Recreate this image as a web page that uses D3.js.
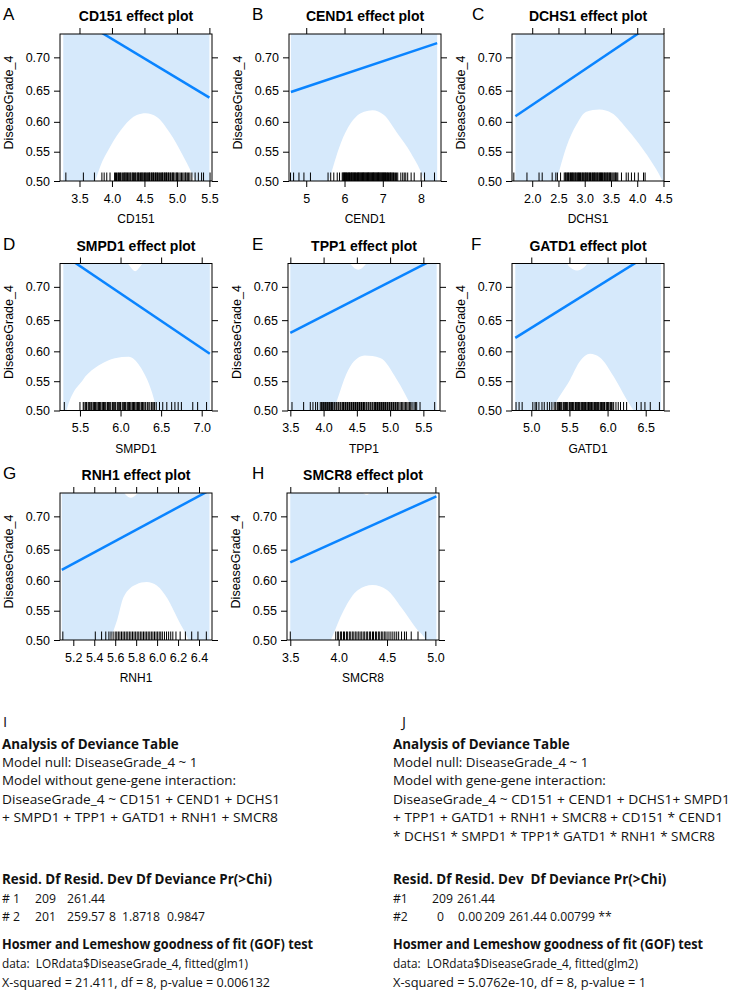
<!DOCTYPE html>
<html><head><meta charset="utf-8">
<script src="https://cdn.jsdelivr.net/npm/d3@7"></script>
<style>body{margin:0;background:#fff} svg{display:block}</style>
</head><body>
<script>
// ================= DATA =================
const genes = ["CD151","CEND1","DCHS1","SMPD1","TPP1","GATD1","RNH1","SMCR8"];
const panelLetters = ["A","B","C","D","E","F","G","H"];
const yLabel = "DiseaseGrade_4";
const yTickValues = [0.50, 0.55, 0.60, 0.65, 0.70];
const yLimits = [0.50, 0.7325];

const CD151_xlim = [3.2, 5.54];
const CD151_xticks = [3.5, 4.0, 4.5, 5.0, 5.5];
const CD151_fit = [[3.25, 0.764], [5.5, 0.639]];
const CD151_lower = [[3.25,0.36],[3.742,0.5],[3.818,0.5245],[3.972,0.5585],[4.177,0.592],[4.383,0.611],[4.52,0.614],[4.69,0.608],[4.895,0.581],[5.075,0.547],[5.23,0.513],[5.5,0.43]];
const CD151_upper = [[3.25,0.97],[4.5,0.80],[5.5,0.90]];
const CD151_rug = [3.29,3.56,3.73,3.845,3.88,3.92,3.97,4.04,4.055,4.07,4.09,4.1,4.115,4.13,4.14,4.16,4.175,4.19,4.2,4.215,4.22,4.24,4.25,4.265,4.28,4.29,4.31,4.32,4.33,4.345,4.36,4.37,4.39,4.4,4.41,4.42,4.44,4.45,4.46,4.475,4.48,4.5,4.51,4.52,4.535,4.55,4.56,4.575,4.58,4.6,4.61,4.62,4.635,4.64,4.66,4.67,4.68,4.695,4.7,4.72,4.73,4.75,4.76,4.775,4.78,4.8,4.81,4.82,4.835,4.84,4.86,4.87,4.88,4.9,4.91,4.93,4.94,4.95,4.97,4.99,5.0,5.01,5.03,5.05,5.07,5.09,5.11,5.13,5.14,5.16,5.18,5.2,5.23,5.28,5.33,5.38,5.41,5.51];

const CEND1_xlim = [4.55, 8.52];
const CEND1_xticks = [5, 6, 7, 8];
const CEND1_fit = [[4.6, 0.648], [8.42, 0.72]];
const CEND1_lower = [[4.6,0.3],[5.59,0.5],[5.90,0.564],[6.16,0.5975],[6.51,0.6165],[6.73,0.619],[7.03,0.611],[7.38,0.581],[7.74,0.547],[8.09,0.5],[8.42,0.42]];
const CEND1_upper = [[4.6,0.95],[6.7,0.80],[8.42,0.92]];
const CEND1_rug = [4.59,4.67,4.81,4.94,5.11,5.57,5.64,5.72,5.81,5.87,5.94,5.96,5.97,5.99,6.0,6.02,6.03,6.05,6.06,6.08,6.1,6.11,6.13,6.14,6.16,6.18,6.19,6.2,6.22,6.23,6.25,6.26,6.28,6.29,6.31,6.33,6.34,6.36,6.37,6.38,6.4,6.41,6.43,6.44,6.46,6.47,6.49,6.5,6.51,6.53,6.54,6.56,6.57,6.59,6.6,6.62,6.63,6.64,6.66,6.67,6.69,6.7,6.72,6.73,6.75,6.76,6.77,6.79,6.8,6.82,6.83,6.85,6.86,6.88,6.89,6.9,6.92,6.93,6.95,6.96,6.98,6.99,7.01,7.02,7.04,7.05,7.07,7.08,7.1,7.12,7.13,7.15,7.17,7.19,7.2,7.22,7.24,7.26,7.28,7.3,7.33,7.36,7.39,7.47,7.52,7.56,7.6,7.65,7.74,7.82,8.0,8.09,8.35];

const DCHS1_xlim = [1.615, 4.51];
const DCHS1_xticks = [2.0, 2.5, 3.0, 3.5, 4.0, 4.5];
const DCHS1_fit = [[1.68, 0.609], [4.49, 0.755]];
const DCHS1_lower = [[1.68,0.3],[2.46,0.5],[2.65,0.558],[2.84,0.595],[3.03,0.6165],[3.28,0.62],[3.52,0.614],[3.77,0.592],[4.03,0.564],[4.25,0.536],[4.47,0.502],[4.49,0.498]];
const DCHS1_upper = [[1.68,0.95],[3.2,0.80],[4.49,0.95]];
const DCHS1_rug = [1.65,1.9,2.13,2.19,2.38,2.45,2.48,2.54,2.61,2.63,2.64,2.66,2.67,2.69,2.7,2.72,2.73,2.75,2.76,2.77,2.79,2.8,2.82,2.83,2.85,2.86,2.88,2.89,2.9,2.92,2.93,2.95,2.96,2.98,2.99,3.01,3.02,3.03,3.05,3.06,3.08,3.09,3.11,3.12,3.14,3.15,3.17,3.18,3.19,3.21,3.22,3.24,3.25,3.27,3.28,3.3,3.31,3.32,3.34,3.35,3.37,3.38,3.4,3.41,3.43,3.44,3.46,3.47,3.49,3.5,3.52,3.54,3.56,3.58,3.59,3.61,3.63,3.7,3.79,3.83,3.89,3.95,4.02,4.12,4.15];

const SMPD1_xlim = [5.254, 7.127];
const SMPD1_xticks = [5.5, 6.0, 6.5, 7.0];
const SMPD1_fit = [[5.295, 0.744], [7.1, 0.596]];
const SMPD1_lower = [[5.295,0.42],[5.335,0.5],[5.54,0.553],[5.75,0.578],[5.93,0.5886],[6.10,0.591],[6.24,0.575],[6.39,0.53],[6.45,0.5],[7.1,0.33]];
const SMPD1_upper = [[5.295,0.98],[5.7,0.80],[6.0,0.75],[6.12,0.728],[6.18,0.722],[6.24,0.728],[6.36,0.75],[6.7,0.81],[7.1,0.92]];
const SMPD1_rug = [5.307,5.5,5.54,5.55,5.57,5.58,5.6,5.61,5.62,5.635,5.64,5.66,5.67,5.68,5.69,5.7,5.72,5.73,5.74,5.75,5.76,5.78,5.79,5.8,5.81,5.82,5.84,5.85,5.86,5.87,5.88,5.9,5.91,5.92,5.93,5.94,5.96,5.97,5.98,5.99,6.0,6.02,6.03,6.04,6.05,6.06,6.08,6.09,6.1,6.11,6.12,6.14,6.15,6.16,6.17,6.18,6.2,6.21,6.22,6.23,6.24,6.26,6.27,6.28,6.3,6.31,6.33,6.34,6.36,6.38,6.39,6.41,6.42,6.44,6.48,6.52,6.57,6.63,6.67,6.71,6.75,6.89,6.95,7.06];

const TPP1_xlim = [3.465, 5.75];
const TPP1_xticks = [3.5, 4.0, 4.5, 5.0, 5.5];
const TPP1_fit = [[3.5, 0.63], [5.7, 0.74]];
const TPP1_lower = [[3.5,0.3],[4.15,0.5],[4.4,0.575],[4.62,0.593],[4.85,0.589],[5.1,0.553],[5.32,0.507],[5.35,0.5],[5.7,0.4]];
const TPP1_upper = [[3.5,0.95],[4.0,0.80],[4.3,0.75],[4.42,0.73],[4.52,0.724],[4.62,0.73],[4.75,0.75],[5.1,0.80],[5.7,0.95]];
const TPP1_rug = [3.525,3.7,3.8,3.84,3.88,3.91,3.95,3.97,3.98,4.0,4.01,4.03,4.04,4.06,4.07,4.09,4.1,4.12,4.13,4.14,4.16,4.17,4.19,4.2,4.22,4.23,4.25,4.26,4.28,4.29,4.3,4.32,4.33,4.35,4.36,4.38,4.39,4.41,4.42,4.44,4.45,4.46,4.48,4.49,4.51,4.52,4.54,4.55,4.57,4.58,4.6,4.61,4.62,4.64,4.65,4.67,4.68,4.7,4.71,4.73,4.74,4.76,4.77,4.78,4.8,4.81,4.83,4.84,4.86,4.87,4.89,4.9,4.92,4.93,4.94,4.96,4.97,4.99,5.0,5.02,5.03,5.05,5.06,5.08,5.09,5.11,5.13,5.15,5.17,5.19,5.21,5.23,5.25,5.27,5.29,5.31,5.33,5.36,5.38,5.4,5.45,5.67];

const GATD1_xlim = [4.747, 6.74];
const GATD1_xticks = [5.0, 5.5, 6.0, 6.5];
const GATD1_fit = [[4.79, 0.622], [6.70, 0.754]];
const GATD1_lower = [[4.79,0.3],[5.27,0.5],[5.51,0.553],[5.64,0.584],[5.77,0.596],[5.9,0.59],[6.08,0.558],[6.25,0.519],[6.34,0.5],[6.7,0.38]];
const GATD1_upper = [[4.79,0.95],[5.2,0.80],[5.4,0.75],[5.5,0.728],[5.6,0.723],[5.7,0.728],[5.82,0.75],[6.2,0.82],[6.7,0.95]];
const GATD1_rug = [4.8,4.84,4.88,5.02,5.05,5.07,5.1,5.14,5.17,5.21,5.24,5.27,5.3,5.32,5.34,5.35,5.36,5.37,5.38,5.39,5.4,5.42,5.43,5.44,5.45,5.46,5.47,5.48,5.5,5.51,5.52,5.53,5.54,5.55,5.56,5.58,5.59,5.6,5.61,5.62,5.63,5.64,5.66,5.67,5.68,5.69,5.7,5.71,5.72,5.74,5.75,5.76,5.77,5.78,5.79,5.8,5.82,5.83,5.84,5.85,5.86,5.87,5.88,5.9,5.91,5.92,5.93,5.94,5.95,5.96,5.98,5.99,6.0,6.01,6.02,6.04,6.05,6.06,6.08,6.11,6.14,6.17,6.21,6.25,6.38,6.44,6.49,6.56,6.68];

const RNH1_xlim = [5.073, 6.524];
const RNH1_xticks = [5.2, 5.4, 5.6, 5.8, 6.0, 6.2, 6.4];
const RNH1_fit = [[5.09, 0.618], [6.50, 0.736]];
const RNH1_lower = [[5.09,0.3],[5.55,0.5],[5.62,0.535],[5.68,0.573],[5.8,0.594],[5.9,0.598],[6.0,0.592],[6.1,0.57],[6.2,0.535],[6.3,0.5],[6.5,0.38]];
const RNH1_upper = [[5.09,0.95],[5.5,0.78],[5.64,0.745],[5.7,0.73],[5.75,0.726],[5.8,0.73],[5.87,0.745],[6.1,0.80],[6.5,0.92]];
const RNH1_rug = [5.1,5.41,5.47,5.51,5.54,5.56,5.58,5.6,5.615,5.63,5.645,5.66,5.675,5.69,5.705,5.72,5.735,5.75,5.765,5.78,5.795,5.81,5.825,5.84,5.855,5.87,5.885,5.9,5.915,5.93,5.945,5.96,5.975,5.99,6.005,6.02,6.035,6.05,6.07,6.09,6.11,6.13,6.15,6.18,6.22,6.27,6.33,6.39,6.47];

const SMCR8_xlim = [3.466, 5.037];
const SMCR8_xticks = [3.5, 4.0, 4.5, 5.0];
const SMCR8_fit = [[3.5, 0.63], [5.01, 0.728]];
const SMCR8_lower = [[3.5,0.35],[3.92,0.5],[4.05,0.55],[4.2,0.585],[4.35,0.593],[4.5,0.585],[4.65,0.555],[4.8,0.52],[4.9,0.5],[5.01,0.45]];
const SMCR8_upper = [[3.5,0.95],[4.0,0.78],[4.2,0.74],[4.29,0.73],[4.38,0.74],[4.6,0.78],[5.01,0.90]];
const SMCR8_rug = [3.5,3.97,3.99,4.0,4.02,4.03,4.05,4.06,4.08,4.09,4.11,4.12,4.14,4.15,4.17,4.18,4.2,4.21,4.23,4.24,4.26,4.27,4.29,4.3,4.32,4.33,4.35,4.36,4.38,4.39,4.41,4.42,4.44,4.45,4.47,4.48,4.5,4.52,4.54,4.56,4.58,4.6,4.62,4.65,4.68,4.7,4.75,4.82,4.9];

const panelData = {
  CD151: {xlim: CD151_xlim, xticks: CD151_xticks, fit: CD151_fit, lower: CD151_lower, upper: CD151_upper, rug: CD151_rug},
  CEND1: {xlim: CEND1_xlim, xticks: CEND1_xticks, fit: CEND1_fit, lower: CEND1_lower, upper: CEND1_upper, rug: CEND1_rug},
  DCHS1: {xlim: DCHS1_xlim, xticks: DCHS1_xticks, fit: DCHS1_fit, lower: DCHS1_lower, upper: DCHS1_upper, rug: DCHS1_rug},
  SMPD1: {xlim: SMPD1_xlim, xticks: SMPD1_xticks, fit: SMPD1_fit, lower: SMPD1_lower, upper: SMPD1_upper, rug: SMPD1_rug},
  TPP1:  {xlim: TPP1_xlim,  xticks: TPP1_xticks,  fit: TPP1_fit,  lower: TPP1_lower,  upper: TPP1_upper,  rug: TPP1_rug},
  GATD1: {xlim: GATD1_xlim, xticks: GATD1_xticks, fit: GATD1_fit, lower: GATD1_lower, upper: GATD1_upper, rug: GATD1_rug},
  RNH1:  {xlim: RNH1_xlim,  xticks: RNH1_xticks,  fit: RNH1_fit,  lower: RNH1_lower,  upper: RNH1_upper,  rug: RNH1_rug},
  SMCR8: {xlim: SMCR8_xlim, xticks: SMCR8_xticks, fit: SMCR8_fit, lower: SMCR8_lower, upper: SMCR8_upper, rug: SMCR8_rug}
};

// text panels
const blockHead = "Analysis of Deviance Table";
const I_lines = ["Model null: DiseaseGrade_4 ~ 1", "Model without gene-gene interaction:", "DiseaseGrade_4 ~ CD151 + CEND1 + DCHS1", "+ SMPD1 + TPP1 + GATD1 + RNH1 + SMCR8"];
const J_lines = ["Model null: DiseaseGrade_4 ~ 1", "Model with gene-gene interaction:", "DiseaseGrade_4 ~ CD151 + CEND1 + DCHS1+ SMPD1", "+ TPP1 + GATD1 + RNH1 + SMCR8 + CD151 * CEND1", "* DCHS1 * SMPD1 * TPP1* GATD1 * RNH1 * SMCR8"];
const I_tableHeader = "Resid. Df Resid. Dev Df Deviance Pr(>Chi)";
const J_tableHeader = "Resid. Df Resid. Dev  Df Deviance Pr(>Chi)";
const I_rows = [["# 1","209","261.44"],["# 2","201","259.57","8","1.8718","0.9847"]];
const J_rows = [["#1","209","261.44"],["#2","0","0.00","209","261.44","0.00799 **"]];
const gofTitle = "Hosmer and Lemeshow goodness of fit (GOF) test";
const I_gof = ["data:  LORdata$DiseaseGrade_4, fitted(glm1)", "X-squared = 21.411, df = 8, p-value = 0.006132"];
const J_gof = ["data:  LORdata$DiseaseGrade_4, fitted(glm2)", "X-squared = 5.0762e-10, df = 8, p-value = 1"];

// ================= LAYOUT =================
const W = 747, H = 992;
const PW = 152, PH = 147;
const panelPos = [
  {left:60, top:34, letterX:3},  {left:289, top:34, letterX:252}, {left:512, top:34, letterX:472},
  {left:60, top:263.5, letterX:3}, {left:288, top:263.5, letterX:252}, {left:512, top:263.5, letterX:471},
  {left:60, top:493, letterX:3}, {left:287, top:493, letterX:252}
];
const BAND = "#d6e9fb", LINE = "#0a84ff";
const PF = "'Liberation Sans', Arial, sans-serif";
const TF = "'Open Sans', 'Noto Sans', sans-serif";

const logit = p => Math.log(p / (1 - p));
const invlogit = v => 1 / (1 + Math.exp(-v));

const svg = d3.select("body").append("svg").attr("width", W).attr("height", H)
  .style("font-family", PF);
svg.append("rect").attr("width", W).attr("height", H).attr("fill", "#fff");

genes.forEach((g, i) => {
  const d = panelData[g];
  const pos = panelPos[i];
  const x = d3.scaleLinear().domain(d.xlim).range([0, PW]);
  const yl = d3.scaleLinear().domain(yLimits.map(logit)).range([PH, 0]);
  const y = p => yl(logit(p));
  const gp = svg.append("g").attr("transform", `translate(${pos.left},${pos.top})`);
  const clipId = "clip" + i;
  gp.append("clipPath").attr("id", clipId).append("rect").attr("width", PW).attr("height", PH);
  const inner = gp.append("g").attr("clip-path", `url(#${clipId})`);

  const x0 = d.fit[0][0], x1 = d.fit[d.fit.length - 1][0];
  inner.append("rect").attr("x", x(x0)).attr("y", 0).attr("width", x(x1) - x(x0)).attr("height", PH).attr("fill", BAND);
  inner.append("path").datum(d.lower)
    .attr("d", d3.area().x(p => x(p[0])).y0(PH + 50).y1(p => y(p[1])).curve(d3.curveMonotoneX))
    .attr("fill", "#fff");
  inner.append("path").datum(d.upper)
    .attr("d", d3.area().x(p => x(p[0])).y0(-50).y1(p => y(p[1])).curve(d3.curveMonotoneX))
    .attr("fill", "#fff");

  inner.append("path").datum(d.fit)
    .attr("d", d3.line().x(p => x(p[0])).y(p => y(p[1])))
    .attr("fill", "none").attr("stroke", LINE).attr("stroke-width", 2.5);

  inner.selectAll("line.rug").data(d.rug).join("line").attr("class", "rug")
    .attr("x1", v => x(v)).attr("x2", v => x(v)).attr("y1", PH).attr("y2", PH - 8.5)
    .attr("stroke", "#000").attr("stroke-width", 1);

  gp.append("rect").attr("width", PW).attr("height", PH).attr("fill", "none").attr("stroke", "#000").attr("stroke-width", 1);

  const allInt = d.xticks.every(Number.isInteger);
  const fmtX = allInt ? d3.format("d") : d3.format(".1f");
  const axB = gp.append("g").attr("transform", `translate(0,${PH})`)
    .call(d3.axisBottom(x).tickValues(d.xticks).tickFormat(fmtX).tickSize(6).tickPadding(7));
  const axT = gp.append("g").call(d3.axisTop(x).tickValues(d.xticks).tickFormat("").tickSize(6));
  const ytv = yTickValues.map(logit);
  const axL = gp.append("g")
    .call(d3.axisLeft(yl).tickValues(ytv).tickFormat(v => d3.format(".2f")(invlogit(v))).tickSize(6).tickPadding(4));
  const axR = gp.append("g").attr("transform", `translate(${PW},0)`)
    .call(d3.axisRight(yl).tickValues(ytv).tickFormat("").tickSize(6));
  [axB, axT, axL, axR].forEach(a => {
    a.select(".domain").remove();
    a.selectAll(".tick line").attr("stroke", "#000");
    a.selectAll(".tick text").attr("fill", "#000").style("font-size", "12.5px").style("font-family", PF);
  });

  gp.append("text").attr("x", PW / 2).attr("y", -13).attr("text-anchor", "middle")
    .style("font-size", "14px").style("font-weight", "bold").text(g + " effect plot");
  gp.append("text").attr("x", PW / 2).attr("y", PH + 42).attr("text-anchor", "middle")
    .style("font-size", "12px").text(g);
  gp.append("text").attr("transform", `translate(${-47},${PH / 2 - 5}) rotate(-90)`).attr("text-anchor", "middle")
    .style("font-size", "12.5px").text(yLabel);
  svg.append("text").attr("x", pos.letterX).attr("y", pos.top - 14).style("font-size", "17px").text(panelLetters[i]);
});

// ================= TEXT PANELS I / J =================
function fitText(sel, w) {
  if (w) sel.attr("textLength", w).attr("lengthAdjust", "spacingAndGlyphs");
  return sel;
}
function textBlock(letter, lx, tx, lines, lineW, header, rows, colX, gof, gofW) {
  const g = svg.append("g").style("font-family", TF).style("font-size", "13.4px").attr("fill", "#111");
  g.append("text").attr("x", lx).attr("y", 727).style("font-size", "15px").text(letter);
  const yy = 748.5;
  g.append("text").attr("x", tx).attr("y", yy).style("font-weight", "bold").text(blockHead);
  lines.forEach((l, k) => fitText(g.append("text").attr("x", tx).attr("y", yy + 18.4 * (k + 1)).text(l), lineW[k]));
  const hy = 884;
  g.append("text").attr("x", tx).attr("y", hy).style("font-weight", "bold").style("white-space", "pre").text(header);
  rows.forEach((r, k) => {
    const t = g.append("text").attr("y", hy + 18.6 * (k + 1)).style("font-size", "12.2px");
    r.forEach((c, j) => t.append("tspan").attr("x", tx + colX[k][j]).text(c));
  });
  const gy = 949;
  fitText(g.append("text").attr("x", tx).attr("y", gy).style("font-weight", "bold").text(gofTitle), gofW[0]);
  gof.forEach((l, k) => fitText(g.append("text").attr("x", tx).attr("y", gy + 18.8 * (k + 1)).style("white-space", "pre").text(l), gofW[k + 1]));
}
textBlock("I", 3, 2, I_lines, [0, 0, 278, 276], I_tableHeader, I_rows,
  [[0, 33, 65], [0, 33, 65, 107, 120, 165]], I_gof, [311, 246, 268]);
textBlock("J", 402, 393, J_lines, [0, 0, 337, 330, 322], J_tableHeader, J_rows,
  [[0, 39, 64], [0, 44, 65, 91, 116, 157]], J_gof, [310, 245, 253]);
</script>
</body></html>
